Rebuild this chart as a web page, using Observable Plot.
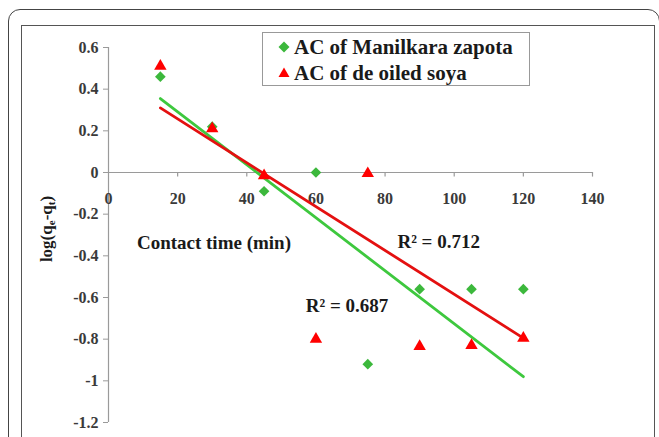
<!DOCTYPE html>
<html>
<head>
<meta charset="utf-8">
<script src="https://cdn.jsdelivr.net/npm/d3@7"></script>
<script src="https://cdn.jsdelivr.net/npm/@observablehq/plot@0.6"></script>
<style>
  html, body { margin: 0; padding: 0; background: #fff; }
  #wrap { position: relative; width: 659px; height: 437px; overflow: hidden; background: #fff; font-family: "Liberation Serif", "DejaVu Serif", "Times New Roman", serif; }
  #outer { position: absolute; left: 8px; top: 9px; width: 652px; height: 470px; border: 1.5px solid #444; border-radius: 12px; box-sizing: border-box; }
  #inner { position: absolute; left: 21px; top: 25px; width: 634px; height: 440px; border: 1.5px solid #555; box-sizing: border-box; }
  #chart { position: absolute; left: 0; top: 0; }
  #legend { position: absolute; left: 262px; top: 32px; width: 268px; height: 54px; border: 1.5px solid #999; box-sizing: border-box; background: #fff; }
  .item { position: absolute; left: 14px; height: 24px; display: flex; align-items: center; font-weight: bold; font-size: 21px; color: #1a1a1a; white-space: nowrap; }
  .item svg { margin-right: 3px; }
  #ylab { position: absolute; left: 47px; top: 229px; transform: translate(-50%, -50%) rotate(-90deg); font-weight: bold; font-size: 17px; color: #1a1a1a; white-space: nowrap; }
  #ylab sub { font-size: 11px; vertical-align: -3px; }
</style>
</head>
<body>
<div id="wrap">
  <div id="outer"></div>
  <div id="inner"></div>
  <div id="chart"></div>
  <div id="legend"></div>
  <div id="ylab">log(q<sub>e</sub>-q<sub>t</sub>)</div>
</div>
<script>
// Data
const times = [15, 30, 45, 60, 75, 90, 105, 120];
const zapota = [0.46, 0.22, -0.09, 0.0, -0.92, -0.56, -0.56, -0.56];
const soyaTimes = [15, 30, 45, 60, 75, 90, 105, 120];
const soya = [0.51, 0.21, -0.015, -0.80, -0.005, -0.835, -0.83, -0.795];

// Trend lines (endpoints)
const trendX = [15, 120];
const zapotaTrend = [0.355, -0.98];
const soyaTrend = [0.31, -0.795];

const seriesNames = ["AC of Manilkara zapota", "AC of de oiled soya"];
const colors = ["#3cb83c", "#ff0000"];
const lineColors = ["#3ec83e", "#e41010"];
const rLabels = ["R\u00b2 = 0.712", "R\u00b2 = 0.687"];
const rLabelX = [95.5, 69];
const rLabelY = [-0.335, -0.64];
const xAxisTitle = "Contact time (min)";
const xAxisTitlePos = [30.5, -0.34];

const xTicks = [0, 20, 40, 60, 80, 100, 120, 140];
const yTicks = [-1.2, -1, -0.8, -0.6, -0.4, -0.2, 0, 0.2, 0.4, 0.6];

const zData = times.map((t, i) => ({x: t, y: zapota[i]}));
const sData = soyaTimes.map((t, i) => ({x: t, y: soya[i]}));
const zTrend = trendX.map((t, i) => ({x: t, y: zapotaTrend[i]}));
const sTrend = trendX.map((t, i) => ({x: t, y: soyaTrend[i]}));
const rData = rLabels.map((l, i) => ({x: rLabelX[i], y: rLabelY[i], text: l}));

const fmt = d => String(+d.toFixed(1));
const serif = "'Liberation Serif', 'DejaVu Serif', 'Times New Roman', serif";

const chart = Plot.plot({
  width: 659,
  height: 437,
  marginLeft: 108,
  marginRight: 67,
  marginTop: 47,
  marginBottom: 15,
  style: {background: "transparent", fontFamily: serif},
  x: {domain: [0, 140], axis: null},
  y: {domain: [-1.2, 0.6], axis: null},
  marks: [
    // y axis
    Plot.ruleX([0], {y1: -1.2, y2: 0.6, stroke: "#9a9a9a", strokeWidth: 1.2}),
    Plot.axisY(yTicks, {tickSize: 5, tickPadding: 5, tickFormat: fmt, label: null, stroke: "#9a9a9a", fill: "#3a3a3a", fontWeight: "bold", fontSize: 16}),
    // x axis at y = 0
    Plot.ruleY([0], {x1: 0, x2: 140, stroke: "#9a9a9a", strokeWidth: 1.2}),
    Plot.ruleX(xTicks.slice(1), {y1: 0, y2: -0.022, stroke: "#9a9a9a", strokeWidth: 1.2}),
    Plot.text(xTicks, {x: d => d, y: 0, dy: 26, text: fmt, fill: "#3a3a3a", fontWeight: "bold", fontSize: 16}),
    // trend lines
    Plot.line(zTrend, {x: "x", y: "y", stroke: lineColors[0], strokeWidth: 2.8}),
    Plot.line(sTrend, {x: "x", y: "y", stroke: lineColors[1], strokeWidth: 2.8}),
    // points
    Plot.dot(zData, {x: "x", y: "y", symbol: "diamond2", fill: colors[0], stroke: "none", r: 4.8}),
    Plot.dot(sData, {x: "x", y: "y", symbol: "triangle", fill: colors[1], stroke: "none", r: 4.6}),
    // annotations
    Plot.text(rData, {x: "x", y: "y", text: "text", fill: "#1a1a1a", fontWeight: "bold", fontSize: 19}),
    Plot.text([xAxisTitle], {x: xAxisTitlePos[0], y: xAxisTitlePos[1], text: d => d, fill: "#1a1a1a", fontWeight: "bold", fontSize: 19})
  ]
});
chart.querySelectorAll("text").forEach(t => t.style.fontFamily = serif);
document.getElementById("chart").appendChild(chart);

// legend
const legend = document.getElementById("legend");
const sym = [
  '<svg width="14" height="14" viewBox="-7 -7 14 14"><path d="M0,-5.5L5.5,0L0,5.5L-5.5,0Z" fill="' + colors[0] + '"/></svg>',
  '<svg width="14" height="14" viewBox="-7 -7 14 14"><path d="M0,-5.5L5.5,4L-5.5,4Z" fill="' + colors[1] + '"/></svg>'
];
seriesNames.forEach((n, i) => {
  const el = document.createElement("div");
  el.className = "item";
  el.style.top = (i === 0 ? 2 : 28) + "px";
  el.innerHTML = sym[i] + "<span>" + n + "</span>";
  legend.appendChild(el);
});
</script>
</body>
</html>
